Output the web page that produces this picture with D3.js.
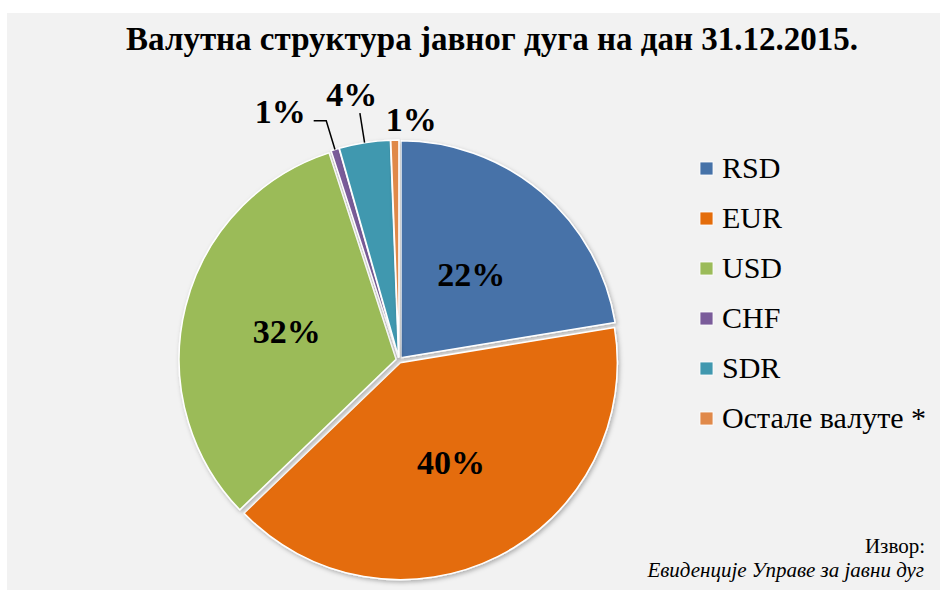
<!DOCTYPE html>
<html>
<head>
<meta charset="utf-8">
<script src="https://cdn.jsdelivr.net/npm/d3@7"></script>
<style>
  body { margin: 0; background: #fff; }
</style>
</head>
<body>
<script>
// data (share of public debt, %)
var currencies = ["RSD", "EUR", "USD", "CHF", "SDR", "Остале валуте *"];
var shares = [22.4, 40.4, 32.2, 0.6, 3.8, 0.6];
var colors = ["#4672a8", "#e46c0a", "#9bbb59", "#7a5c9a", "#4198af", "#e0894a"];
var title = "Валутна структура јавног дуга на дан 31.12.2015.";
var sourceLines = ["Извор:", "Евиденције Управе за јавни дуг"];

var w = 940;
var h = 590;
var cx = 399, cy = 360, R = 217, explode = 3;
var serif = "Liberation Serif";

// where the data labels go: inside (fraction of R) or outside (angle, radius)
var labelPlace = [
  { inside: 0.5 },
  { inside: 0.52 },
  { inside: 0.52 },
  { angle: 334.4, r: 275, leader: true },
  { angle: 349.9, r: 269, leader: true },
  { angle: 2.9, r: 240, leader: false }
];

var svg = d3.select("body").append("svg")
  .attr("width", w)
  .attr("height", h);

var defs = svg.append("defs");
var shadow = defs.append("filter").attr("id", "shadow")
  .attr("x", "-10%").attr("y", "-10%").attr("width", "130%").attr("height", "130%");
shadow.append("feDropShadow")
  .attr("dx", 1.5).attr("dy", 2).attr("stdDeviation", 2)
  .attr("flood-color", "#000").attr("flood-opacity", 0.28);

svg.append("rect")
  .attr("x", 7).attr("y", 13)
  .attr("width", w - 7).attr("height", h - 13)
  .attr("fill", "#f2f2f2");

svg.append("text")
  .attr("x", 492).attr("y", 50)
  .attr("text-anchor", "middle")
  .attr("font-family", serif)
  .attr("font-size", 33)
  .attr("font-weight", "bold")
  .text(title);

var pie = d3.pie().sort(null).value(d => d);
var arcs = pie(shares);
var arc = d3.arc().innerRadius(0).outerRadius(R);

// polar helper, angle in radians clockwise from top
function polar(a, r) {
  return [r * Math.sin(a), -r * Math.cos(a)];
}

var g = svg.append("g").attr("transform", `translate(${cx},${cy})`);

g.selectAll("path.slice")
  .data(arcs)
  .enter()
  .append("path")
  .attr("class", "slice")
  .attr("d", arc)
  .attr("transform", d => {
    var p = polar((d.startAngle + d.endAngle) / 2, explode);
    return `translate(${p[0]},${p[1]})`;
  })
  .attr("fill", (d, i) => colors[i])
  .attr("stroke", "#fff")
  .attr("stroke-width", 1.5)
  .attr("stroke-linejoin", "round")
  .attr("filter", "url(#shadow)");

// data labels
var labelSize = 34;
arcs.forEach(function(d, i) {
  var place = labelPlace[i];
  var mid = (d.startAngle + d.endAngle) / 2;
  var pos;
  if (place.inside) {
    pos = polar(mid, R * place.inside + explode);
  } else {
    pos = polar(place.angle * Math.PI / 180, place.r);
  }
  var t = g.append("text")
    .attr("x", pos[0])
    .attr("y", pos[1] + labelSize * 0.32)
    .attr("text-anchor", "middle")
    .attr("font-family", serif)
    .attr("font-size", labelSize)
    .attr("font-weight", "bold")
    .text(Math.round(d.data) + "%");

  if (place.leader) {
    var bb = t.node().getBBox();
    var p0 = polar(mid, R + explode);
    var p1 = polar(mid, 250);
    var pts = [p0, p1];
    if (p1[0] > bb.x + bb.width) pts.push([bb.x + bb.width + 8, p1[1]]);
    else if (p1[0] < bb.x) pts.push([bb.x - 8, p1[1]]);
    g.append("path")
      .attr("d", d3.line()(pts))
      .attr("fill", "none")
      .attr("stroke", "#000")
      .attr("stroke-width", 1.5);
  }
});

// legend
var legend = svg.append("g").attr("transform", "translate(700,168)");
var rows = legend.selectAll("g")
  .data(currencies)
  .enter()
  .append("g")
  .attr("transform", (d, i) => `translate(0,${i * 50})`);

rows.append("rect")
  .attr("x", 0).attr("y", -6)
  .attr("width", 13).attr("height", 13)
  .attr("fill", (d, i) => colors[i])
  .attr("stroke", "#fff")
  .attr("stroke-width", 0.8);

rows.append("text")
  .attr("x", 22)
  .attr("y", 10)
  .attr("font-family", serif)
  .attr("font-size", 30)
  .text(d => d);

// source note
svg.append("text")
  .attr("x", 925).attr("y", 553)
  .attr("text-anchor", "end")
  .attr("font-family", serif)
  .attr("font-size", 21)
  .text(sourceLines[0]);

svg.append("text")
  .attr("x", 924).attr("y", 577)
  .attr("text-anchor", "end")
  .attr("font-family", serif)
  .attr("font-size", 21)
  .attr("font-style", "italic")
  .text(sourceLines[1]);
</script>
</body>
</html>
